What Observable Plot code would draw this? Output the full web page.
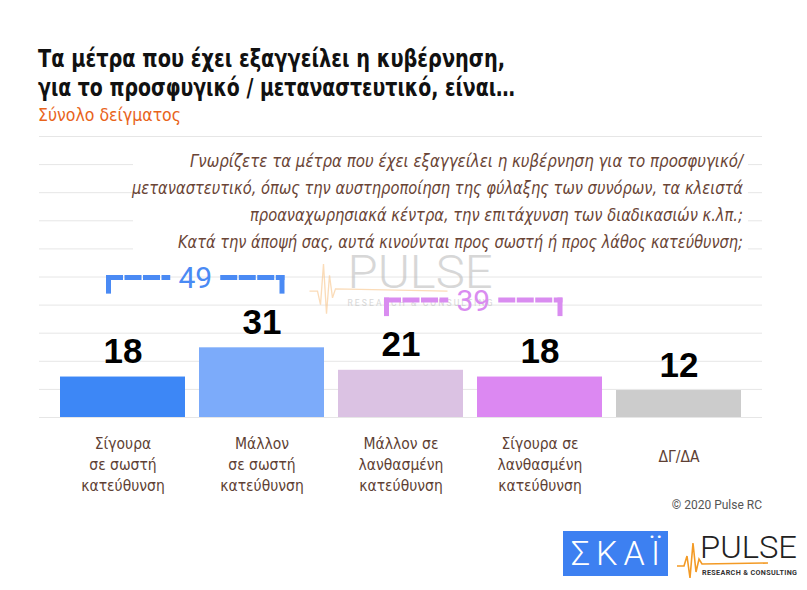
<!DOCTYPE html>
<html>
<head>
<meta charset="utf-8">
<script src="https://cdn.jsdelivr.net/npm/d3@7"></script>
<script src="https://cdn.jsdelivr.net/npm/@observablehq/plot@0.6"></script>
<style>
  html, body { margin: 0; padding: 0; background: #fff; }
  #wrap { position: relative; width: 807px; height: 590px; overflow: hidden; background: #fff; }
</style>
</head>
<body>
<div id="wrap"></div>
<script>
// ---- data ----
const titleLines = ["Τα μέτρα που έχει εξαγγείλει η κυβέρνηση,", "για το προσφυγικό / μεταναστευτικό, είναι…"];
const subtitle = "Σύνολο δείγματος";
const questionLines = [
  "Γνωρίζετε τα μέτρα που έχει εξαγγείλει η κυβέρνηση για το προσφυγικό/",
  "μεταναστευτικό, όπως την αυστηροποίηση της φύλαξης των συνόρων, τα κλειστά",
  "προαναχωρησιακά κέντρα, την επιτάχυνση των διαδικασιών κ.λπ.;",
  "Κατά την άποψή σας, αυτά κινούνται προς σωστή ή προς λάθος κατεύθυνση;"
];
const categories = [
  "Σίγουρα\nσε σωστή\nκατεύθυνση",
  "Μάλλον\nσε σωστή\nκατεύθυνση",
  "Μάλλον σε\nλανθασμένη\nκατεύθυνση",
  "Σίγουρα σε\nλανθασμένη\nκατεύθυνση",
  "ΔΓ/ΔΑ"
];
const values = [18, 31, 21, 18, 12];
const barColors = ["#3d87f6", "#7cabfa", "#dbc2e3", "#dc88f2", "#cccccc"];
const groups = [
  {label: "49", members: [0, 1], color: "#4a8af4"},
  {label: "39", members: [2, 3], color: "#d98cf0"}
];
const gridTicks = d3.range(0, 125.001, 12.5);
const copyright = "© 2020 Pulse RC";

const data = categories.map((c, i) => ({cat: c, value: values[i], color: barColors[i], multi: c.includes("\n")}));

const narrow = '"Liberation Sans Narrow", "DejaVu Sans Condensed", Roboto, sans-serif';

const plot = Plot.plot({
  width: 807,
  height: 590,
  marginTop: 136,
  marginBottom: 173,
  marginLeft: 45,
  marginRight: 50,
  style: {background: "#fff", overflow: "visible"},
  x: {domain: categories, padding: 0.1, axis: null},
  y: {domain: [0, 125], axis: null},
  marks: [
    Plot.ruleY(gridTicks, {stroke: "#e6e6e6", strokeWidth: 1, insetLeft: -6, insetRight: -5}),
    Plot.barY(data, {x: "cat", y: "value", fill: "color"}),
    Plot.text(data, {x: "cat", y: "value", text: d => String(d.value), lineAnchor: "bottom", dy: -14,
      fontSize: 35, fontWeight: "bold", fontFamily: "Liberation Sans, Arial, sans-serif", fill: "#000", ariaLabel: "values"}),
    Plot.text(data.filter(d => d.multi), {x: "cat", y: () => 0, text: "cat", lineAnchor: "top", dy: 16,
      lineHeight: 1.38, fontSize: 15.5, fontFamily: narrow, fill: "#5e3f34"}),
    Plot.text(data.filter(d => !d.multi), {x: "cat", y: () => 0, text: "cat", lineAnchor: "middle", dy: 40,
      fontSize: 15.5, fontFamily: narrow, fill: "#5e3f34"})
  ]
});
document.getElementById("wrap").appendChild(plot);

const svg = d3.select(plot);
const sx = plot.scale("x");
const sy = plot.scale("y");
const center = c => sx.apply(c) + sx.bandwidth / 2;

// condensed look for the value labels
svg.selectAll('g[aria-label="values"] text')
  .attr("textLength", 34).attr("lengthAdjust", "spacingAndGlyphs");

// ---- titles ----
const titleWidths = [467, 477];
titleLines.forEach((t, i) => {
  svg.append("text").attr("x", 38).attr("y", 67 + i * 29).attr("text-anchor", "start").text(t)
    .attr("font-family", narrow).attr("font-weight", "bold").attr("font-size", 25)
    .attr("fill", "#111").attr("textLength", titleWidths[i]).attr("lengthAdjust", "spacingAndGlyphs");
});
svg.append("text").attr("x", 38).attr("y", 121).attr("text-anchor", "start").text(subtitle)
  .attr("font-family", narrow).attr("font-size", 17).attr("fill", "#e8641b")
  .attr("textLength", 143).attr("lengthAdjust", "spacingAndGlyphs");

// ---- question box ----
svg.append("rect").attr("x", 133).attr("y", 146).attr("width", 615).attr("height", 111).attr("fill", "#fff");
const qWidths = [553, 611, 493, 565];
questionLines.forEach((t, i) => {
  svg.append("text").attr("x", 743).attr("y", 167 + i * 27).attr("text-anchor", "end").text(t)
    .attr("font-family", narrow).attr("font-style", "italic").attr("font-size", 17)
    .attr("fill", "#6a4536").attr("textLength", qWidths[i]).attr("lengthAdjust", "spacingAndGlyphs");
});

svg.append("text").attr("x", 762).attr("y", 509).attr("text-anchor", "end").text(copyright)
  .attr("font-family", "Roboto, sans-serif").attr("font-size", 12).attr("fill", "#555");

// ---- watermark ----
const wm = svg.append("g").attr("opacity", 0.6).attr("text-anchor", "start");
const wmX = center(categories[2]) - 53;
wm.append("path")
  .attr("d", `M${wmX-38},${sy.apply(56)} L${wmX-30},${sy.apply(56)} L${wmX-27},${sy.apply(50)} L${wmX-24},${sy.apply(68)} L${wmX-21},${sy.apply(46)} L${wmX-18},${sy.apply(63)} L${wmX-15},${sy.apply(53)} L${wmX-12},${sy.apply(57)} L${wmX+100},${sy.apply(56)}`)
  .attr("fill", "none").attr("stroke", "#f9c58a").attr("stroke-width", 1.3);
wm.append("text").attr("x", wmX).attr("y", sy.apply(57.5)).text("PULSE")
  .attr("font-family", "Roboto, sans-serif").attr("font-weight", 300).attr("font-size", 46)
  .attr("fill", "#bdbdbd").attr("textLength", 145).attr("lengthAdjust", "spacingAndGlyphs");
wm.append("text").attr("x", wmX).attr("y", sy.apply(49.5)).text("RESEARCH & CONSULTING")
  .attr("font-family", "Roboto, sans-serif").attr("font-size", 8.5)
  .attr("fill", "#bdbdbd").attr("textLength", 145).attr("lengthAdjust", "spacing");

// ---- brackets ----
for (const g of groups) {
  const a = categories[g.members[0]], b = categories[g.members[1]];
  const left = center(a) - 16.5, right = center(b) + 23;
  const top = sy.apply(d3.max(g.members, i => values[i]) + 31);
  const mid = (left + right) / 2;
  const gg = svg.append("g");
  const seg = (x1, x2) => gg.append("line").attr("x1", x1).attr("x2", x2).attr("y1", top).attr("y2", top)
    .attr("stroke", g.color).attr("stroke-width", 5).attr("stroke-dasharray", "17 1.5");
  seg(left, mid - 25);
  seg(mid + 25, right);
  gg.append("rect").attr("x", left).attr("y", top - 2.5).attr("width", 5).attr("height", 18.5).attr("fill", g.color);
  gg.append("rect").attr("x", right - 5).attr("y", top - 2.5).attr("width", 5).attr("height", 18.5).attr("fill", g.color);
  gg.append("text").attr("x", mid).attr("y", top).attr("dy", "0.36em").attr("text-anchor", "middle")
    .attr("font-family", "Roboto, sans-serif").attr("font-size", 30).attr("fill", g.color).text(g.label);
}

// ---- logos ----
const lg = svg.append("g").attr("text-anchor", "start");
lg.append("rect").attr("x", 563).attr("y", 531).attr("width", 105).attr("height", 45).attr("fill", "#3d80f1");
lg.append("text").attr("x", 571).attr("y", 565).text("ΣΚΑΪ")
  .attr("font-family", "Roboto, sans-serif").attr("font-weight", 300).attr("font-size", 34)
  .attr("fill", "#fff").attr("textLength", 89).attr("lengthAdjust", "spacing");
lg.append("path").attr("d", "M677,566 L684,566 L687,556 L690,578 L693,543 L696,572 L699,559 L702,564 L768,563")
  .attr("fill", "none").attr("stroke", "#f39a25").attr("stroke-width", 1.6);
lg.append("text").attr("x", 700).attr("y", 558).text("PULSE")
  .attr("font-family", "Roboto, sans-serif").attr("font-weight", 300).attr("font-size", 32)
  .attr("fill", "#222").attr("textLength", 97).attr("lengthAdjust", "spacingAndGlyphs");
lg.append("text").attr("x", 702).attr("y", 575).text("RESEARCH & CONSULTING")
  .attr("font-family", "Roboto, sans-serif").attr("font-weight", 700).attr("font-size", 7.2)
  .attr("fill", "#333").attr("textLength", 95).attr("lengthAdjust", "spacing");
</script>
</body>
</html>
